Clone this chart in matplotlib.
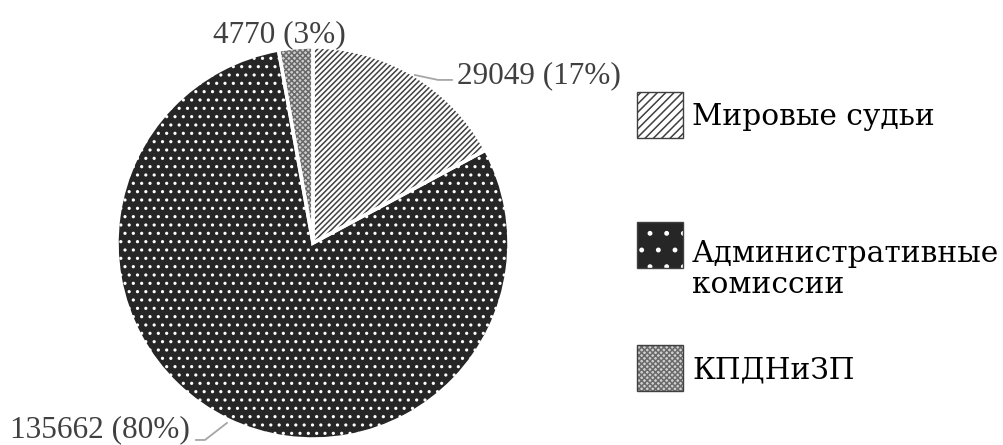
import matplotlib
matplotlib.use('Agg')
import numpy as np
import matplotlib.pyplot as plt
from matplotlib.patches import Rectangle

plt.rcParams['font.family'] = ['Liberation Serif', 'DejaVu Serif']
plt.rcParams['hatch.linewidth'] = 1.1

# data
labels = ['Мировые судьи', 'Административные\nкомиссии', 'КПДНиЗП']
values = [29049, 135662, 4770]
percents = ['17%', '80%', '3%']

faces = ['white', '#262626', '#d0d0d0']
hatch_cols = ['#404040', 'white', '#6a6a6a']
hatches = ['//////', '..', 'xxxxxx']
legend_hatches = ['////', '.', 'xxxxxx']

fig = plt.figure(figsize=(10.04, 4.45), dpi=100)
ax = fig.add_axes([117 / 1004, 6 / 445, 392 / 1004, 392 / 445])

wedges, _ = ax.pie(values, startangle=90, counterclock=False, radius=1)
for w, fc, hc, h in zip(wedges, faces, hatch_cols, hatches):
    w.set_facecolor(fc)
    w.set_edgecolor(hc)
    w.set_hatch(h)
    w.set_linewidth(0)
# white borders between slices
ax.pie(values, startangle=90, counterclock=False, radius=1,
       wedgeprops=dict(facecolor='none', edgecolor='white', linewidth=2.5))
ax.set_xlim(-1, 1)
ax.set_ylim(-1, 1)
ax.set_aspect('equal')
ax.axis('off')

lbl_color = '#404040'
line_color = '#a6a6a6'
texts = ['%d (%s)' % (v, p) for v, p in zip(values, percents)]

# 17% label with leader
ax.plot([0.520, 0.638, 0.709], [0.857, 0.832, 0.832], color=line_color, lw=1.3,
        clip_on=False)
ax.text(0.735, 0.816, texts[0], fontsize=22.5, color=lbl_color,
        ha='left', va='baseline', clip_on=False)
# 80% label with leader
ax.plot([-0.439, -0.551, -0.597], [-0.918, -1.005, -1.005], color=line_color, lw=1.3,
        clip_on=False)
ax.text(-0.628, -0.99, texts[1], fontsize=22.5, color=lbl_color,
        ha='right', va='baseline', clip_on=False)
# 3% label
ax.text(-0.173, 1.026, texts[2], fontsize=22.5, color=lbl_color,
        ha='center', va='baseline', clip_on=False)

# legend drawn by hand
ys = [92, 222, 345]
bases = [[125], [262, 293], [378]]
for lab, fc, hc, h, yt, yb in zip(labels, faces, hatch_cols, legend_hatches, ys, bases):
    r = (637 / 1004, 1 - (yt + 46) / 445)
    fig.patches.append(Rectangle(r, 46 / 1004, 46 / 445, transform=fig.transFigure,
                                 facecolor=fc, edgecolor=hc, hatch=h, linewidth=0))
    fig.patches.append(Rectangle(r, 46 / 1004, 46 / 445, transform=fig.transFigure,
                                 facecolor='none', edgecolor='#404040', linewidth=1))
    for line, b in zip(lab.split('\n'), yb):
        fig.text(692 / 1004, 1 - b / 445, line, fontsize=21.3, color='black',
                 family='DejaVu Serif', ha='left', va='baseline')

fig.savefig('out.png', dpi=100)
